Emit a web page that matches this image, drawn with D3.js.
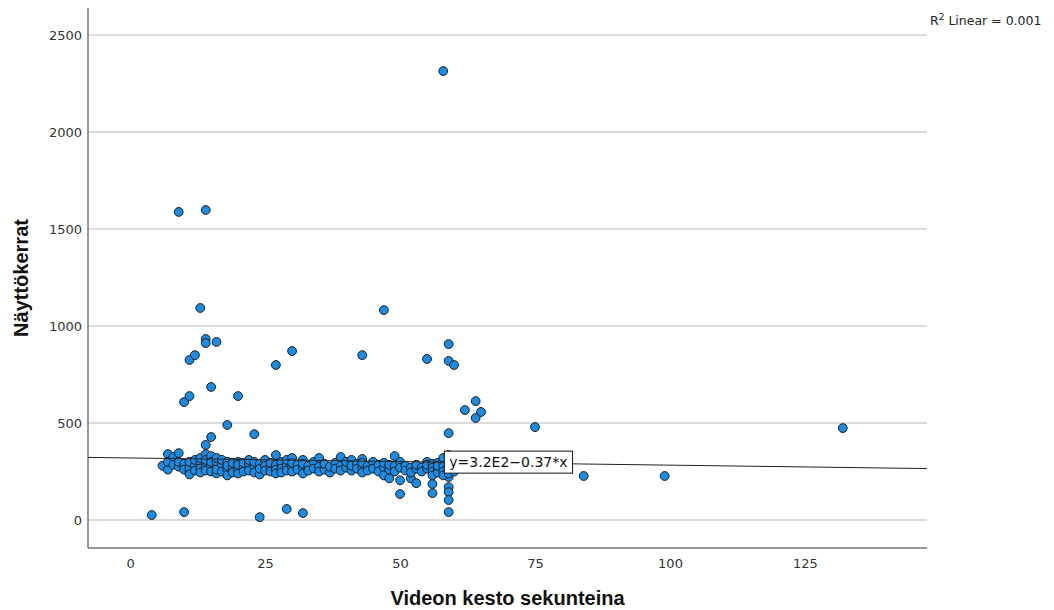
<!DOCTYPE html>
<html>
<head>
<meta charset="utf-8">
<script src="https://cdn.jsdelivr.net/npm/d3@7"></script>
<style>
  body { margin: 0; background: #fff; }
</style>
</head>
<body>
<script>
// video length (seconds) and view counts
const duration = [
    58, 9, 14, 13, 14, 14, 16, 11, 12, 10, 11, 15, 15, 14, 18, 20, 23, 27, 30, 43,
    47, 55, 59, 59, 60, 62, 64, 65, 64, 75, 59, 84, 99, 132, 4, 10, 24, 29, 32, 50,
    56, 56, 59, 59, 59, 59, 59,
    6, 7, 7, 7, 8, 8, 9, 9, 9, 10, 10,
    11, 11, 11, 11, 12, 12, 12, 13, 13, 13, 13,
    14, 14, 14, 14, 14, 15, 15, 15, 15, 16, 16, 16, 16, 16,
    17, 17, 17, 18, 18, 18, 18, 19, 19, 19, 20, 20, 20, 20,
    21, 21, 21, 22, 22, 22, 23, 23, 23, 24, 24, 24, 25, 25, 25,
    26, 26, 26, 27, 27, 27, 27, 28, 28, 28, 29, 29, 29, 30, 30, 30, 30,
    31, 31, 32, 32, 32, 32, 33, 33, 34, 34, 35, 35, 35, 36, 36, 37, 37,
    38, 38, 39, 39, 39, 40, 40, 41, 41, 41, 42, 42, 43, 43, 43, 43,
    44, 44, 45, 45, 46, 46, 47, 47, 47, 48, 48, 48, 49, 49, 49,
    50, 50, 50, 51, 51, 52, 52, 52, 53, 53, 53, 54, 54, 55, 55, 55,
    56, 56, 56, 56, 57, 57, 57, 57, 58, 58, 58, 58, 58, 59, 59, 59, 59, 59, 60, 60
];

const views = [
    2314, 1588, 1598, 1093, 933, 912, 918, 825, 850, 608, 639, 686, 428, 387, 490, 639, 443, 799, 871, 850,
    1082, 830, 907, 820, 799, 567, 613, 557, 526, 479, 448, 227, 227, 474, 26, 41, 15, 57, 36, 134,
    139, 186, 222, 170, 144, 103, 41,
    280, 260, 340, 300, 325, 285, 345, 275, 300, 290, 260,
    250, 270, 300, 235, 280, 310, 255, 300, 265, 245, 320,
    340, 290, 270, 255, 310, 330, 280, 250, 300, 270, 240, 300, 320, 260,
    285, 250, 310, 260, 230, 300, 280, 275, 245, 295, 300, 260, 240, 285,
    270, 250, 295, 290, 255, 310, 275, 245, 300, 290, 235, 265, 310, 280, 255,
    270, 295, 250, 335, 285, 260, 240, 300, 265, 245, 280, 255, 310, 320, 275, 250, 295,
    285, 260, 310, 270, 240, 290, 280, 255, 300, 265, 320, 275, 250, 260, 290, 245, 275,
    295, 265, 325, 280, 255, 270, 300, 310, 255, 280, 290, 265, 315, 270, 245, 295,
    280, 255, 300, 265, 285, 250, 270, 230, 295, 215, 260, 285, 330, 280, 250,
    300, 270, 205, 280, 255, 270, 215, 245, 190, 265, 285, 270, 250, 300, 265, 285,
    290, 270, 250, 230, 295, 265, 245, 280, 300, 275, 250, 230, 320, 280, 260, 240, 335, 300, 270, 250
];

const xTicks = [0, 25, 50, 75, 100, 125];
const yTicks = [0, 500, 1000, 1500, 2000, 2500];

// linear fit as printed on the chart
const fitIntercept = 320;
const fitSlope = -0.37;
const fitLabel = 'y=3.2E2\u22120.37*x';
const r2Value = '0.001';

const points = duration.map((d, i) => [d, views[i]]);

create(points);

function create(data) {

    const width = 1054;
    const height = 610;

    const left = 88;
    const right = 927;
    const top = 8;
    const bottom = 548;

    const Xscale = d3.scaleLinear()
                    .domain([-7.8, 147.6])
                    .range([left, right]);

    const Yscale = d3.scaleLinear()
                    .domain([-144, 2639])
                    .range([bottom, top]);

    const svg = d3.select('body')
    .append('svg')
    .attr('width', width)
    .attr('height', height)
    .style('font-family', '"DejaVu Sans", sans-serif');

    // gridlines
    svg.append('g')
    .selectAll('line')
    .data(yTicks)
    .enter()
    .append('line')
    .attr('x1', left)
    .attr('x2', right)
    .attr('y1', (d) => Yscale(d))
    .attr('y2', (d) => Yscale(d))
    .attr('stroke', '#cfcfcf')
    .attr('stroke-width', 1.5);

    const yAxis = d3.axisLeft(Yscale).tickValues(yTicks).tickFormat(d3.format('d')).tickSize(0).tickPadding(6);
    const xAxis = d3.axisBottom(Xscale).tickValues(xTicks).tickFormat(d3.format('d')).tickSize(0).tickPadding(11);

    const gy = svg.append('g')
       .attr('transform', `translate(${left}, 0)`)
       .call(yAxis);

    const gx = svg.append('g')
       .attr('transform', `translate(0, ${bottom})`)
       .call(xAxis);

    [gx, gy].forEach(g => {
        g.select('.domain').remove();
        g.selectAll('text')
         .attr('fill', '#333')
         .style('font-size', '13px')
         .style('font-family', '"DejaVu Sans", sans-serif');
    });

    // axis lines
    svg.append('line')
       .attr('x1', left).attr('x2', left)
       .attr('y1', top).attr('y2', bottom)
       .attr('stroke', '#777').attr('stroke-width', 1.5);

    svg.append('line')
       .attr('x1', left).attr('x2', right)
       .attr('y1', bottom).attr('y2', bottom)
       .attr('stroke', '#777').attr('stroke-width', 1.5);

    // points
    svg.append('g')
    .selectAll('circle')
    .data(data)
    .enter()
    .append('circle')
    .attr('cx', (d) => Xscale(d[0]))
    .attr('cy', (d) => Yscale(d[1]))
    .attr('r', 4.4)
    .attr('fill', '#1a8ce4')
    .attr('stroke', '#1a1a1a')
    .attr('stroke-width', 1);

    // fit line
    const [x0, x1] = Xscale.domain();
    svg.append('line')
       .attr('x1', Xscale(x0))
       .attr('x2', Xscale(x1))
       .attr('y1', Yscale(fitIntercept + fitSlope * x0))
       .attr('y2', Yscale(fitIntercept + fitSlope * x1))
       .attr('stroke', '#222')
       .attr('stroke-width', 1);

    // fit label box
    const lx = 58.2;
    const ly = fitIntercept + fitSlope * lx;
    const label = svg.append('g')
       .attr('transform', `translate(${Xscale(lx)}, ${Yscale(ly)})`);
    const labelRect = label.append('rect')
       .attr('fill', '#fff')
       .attr('stroke', '#111')
       .attr('stroke-width', 1);
    const labelText = label.append('text')
       .attr('x', 5)
       .attr('y', 5)
       .style('font-size', '14px')
       .attr('fill', '#111')
       .text(fitLabel);
    const tw = labelText.node().getComputedTextLength();
    labelRect.attr('x', 0).attr('y', -11).attr('width', tw + 10).attr('height', 22);

    // R squared note
    const r2 = svg.append('text')
       .attr('x', 930)
       .attr('y', 25)
       .attr('fill', '#222')
       .style('font-size', '12.5px');
    r2.append('tspan').text('R');
    r2.append('tspan').attr('dy', -5).style('font-size', '9px').text('2');
    r2.append('tspan').attr('dy', 5).text(' Linear = ' + r2Value);

    // axis titles
    svg.append('text')
       .attr('x', (left + right) / 2)
       .attr('y', 605)
       .attr('text-anchor', 'middle')
       .style('font-family', '"Liberation Sans", Arial, sans-serif')
       .style('font-weight', 'bold')
       .style('font-size', '20px')
       .attr('fill', '#111')
       .text('Videon kesto sekunteina');

    svg.append('text')
       .attr('transform', `translate(28, ${(top + bottom) / 2}) rotate(-90)`)
       .attr('text-anchor', 'middle')
       .style('font-family', '"Liberation Sans", Arial, sans-serif')
       .style('font-weight', 'bold')
       .style('font-size', '20px')
       .attr('fill', '#111')
       .text('Näyttökerrat');
}
</script>
</body>
</html>
